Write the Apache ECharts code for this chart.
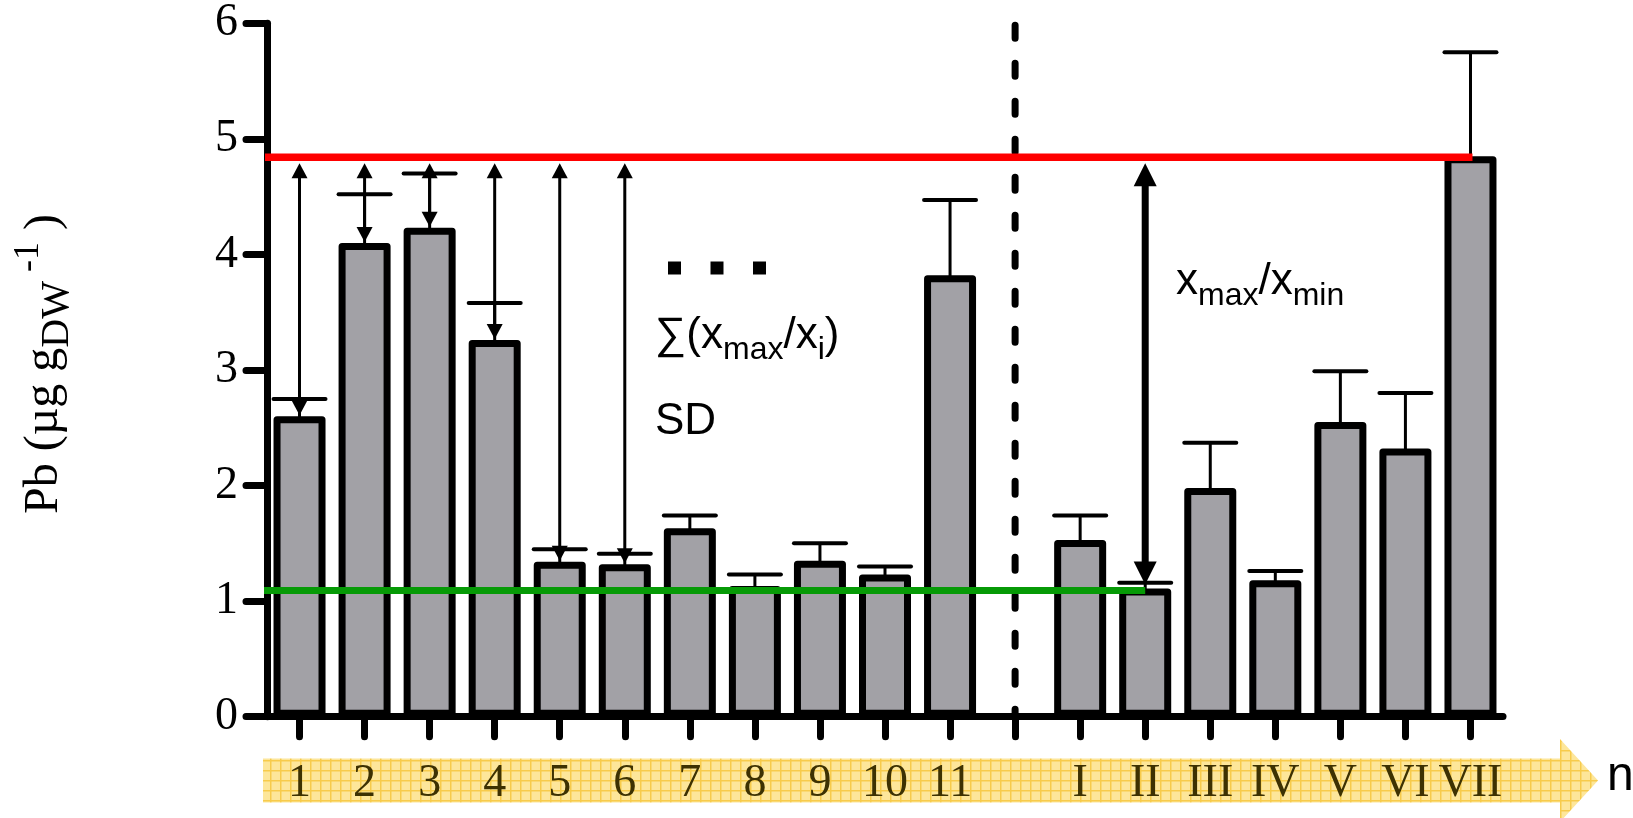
<!DOCTYPE html>
<html><head><meta charset="utf-8">
<script src="https://cdn.jsdelivr.net/npm/echarts@6/dist/echarts.min.js"></script>
<style>html,body{margin:0;padding:0;background:#fff}#c{width:1633px;height:818px}</style>
</head><body><div id="c"></div>
<script>
// ---------- data ----------
const categories = ['1','2','3','4','5','6','7','8','9','10','11','','I','II','III','IV','V','VI','VII'];
const pbMean = [2.60, 4.10, 4.23, 3.26, 1.34, 1.32, 1.63, 1.13, 1.35, 1.23, 3.82, null, 1.53, 1.11, 1.98, 1.18, 2.55, 2.32, 4.85];
const pbSD   = [0.15, 0.42, 0.47, 0.32, 0.11, 0.09, 0.11, 0.10, 0.15, 0.07, 0.65, null, 0.21, 0.05, 0.39, 0.08, 0.44, 0.48, 0.90];
const sumArrowCats = ['1','2','3','4','5','6'];
const yMin = 0, yMax = 6, yStep = 1;
const yAxisTitle = ['Pb (µg g', 'DW', ' -1', ' )'];

// ---------- derived ----------
const valid = pbMean.map((v, i) => [i, v]).filter(d => d[1] != null);
const maxPair = valid.reduce((a, b) => (b[1] > a[1] ? b : a));
const minPair = valid.reduce((a, b) => (b[1] < a[1] ? b : a));
const gapIndex = categories.indexOf('');

const errData = valid.map(d => [d[0], d[1], d[1] + pbSD[d[0]]]);
const sumArrowData = sumArrowCats.map(c => { const i = categories.indexOf(c); return [i, pbMean[i]]; });

const SERIF = '"Liberation Serif","Times New Roman",serif';
const SANS = '"Liberation Sans",Arial,"DejaVu Sans",sans-serif';

function arrowGroup(x, yTop, yBot, lw, hw, hl) {
  return {
    type: 'group',
    children: [
      { type: 'line', shape: { x1: x, y1: yTop + hl * 0.8, x2: x, y2: yBot - hl * 0.8 }, style: { stroke: '#000', lineWidth: lw } },
      { type: 'polygon', shape: { points: [[x, yTop], [x - hw / 2, yTop + hl], [x + hw / 2, yTop + hl]] }, style: { fill: '#000' } },
      { type: 'polygon', shape: { points: [[x, yBot], [x - hw / 2, yBot - hl], [x + hw / 2, yBot - hl]] }, style: { fill: '#000' } }
    ]
  };
}

// band pattern
const pc = document.createElement('canvas');
pc.width = 10; pc.height = 10;
const g2 = pc.getContext('2d');
g2.fillStyle = '#fde69a'; g2.fillRect(0, 0, 10, 10);
g2.fillStyle = '#f7cb4c'; g2.fillRect(0, 0, 10, 1.5); g2.fillRect(0, 0, 1.5, 10);

const chart = echarts.init(document.getElementById('c'), null, { renderer: 'canvas' });

const option = {
  animation: false,
  backgroundColor: '#fff',
  grid: { left: 267, right: 130, top: 23.3, bottom: 101.3, containLabel: false, outerBoundsMode: 'none' },
  xAxis: {
    type: 'category',
    data: categories,
    axisLine: { show: true, lineStyle: { color: '#000', width: 7, cap: 'round' } },
    axisTick: { show: true, interval: 0, alignWithLabel: true, length: 20, lineStyle: { color: '#000', width: 7, cap: 'round' } },
    axisLabel: { interval: 0, fontFamily: SERIF, fontSize: 46, color: '#3d3102', margin: 44 },
    splitLine: { show: false }
  },
  yAxis: {
    type: 'value',
    min: yMin, max: yMax, interval: yStep,
    axisLine: { show: true, lineStyle: { color: '#000', width: 7, cap: 'round' } },
    axisTick: { show: true, length: 21, lineStyle: { color: '#000', width: 7, cap: 'round' } },
    axisLabel: { fontFamily: SERIF, fontSize: 46, color: '#000', margin: 29 },
    splitLine: { show: false },
    name: '{m|' + yAxisTitle[0] + '}{sub|' + yAxisTitle[1] + '}{sup|' + yAxisTitle[2] + '}{m|' + yAxisTitle[3] + '}',
    nameLocation: 'middle',
    nameRotate: 90,
    nameGap: 190,
    nameTextStyle: {
      padding: [0, 0, 0, 12],
      rich: {
        m: { fontFamily: SERIF, fontSize: 48, lineHeight: 66, color: '#000', verticalAlign: 'middle' },
        sub: { fontFamily: SERIF, fontSize: 40, lineHeight: 40, color: '#000', verticalAlign: 'bottom' },
        sup: { fontFamily: SERIF, fontSize: 36, lineHeight: 28, color: '#000', verticalAlign: 'top' }
      }
    }
  },
  series: [
    {
      type: 'bar',
      data: pbMean,
      barWidth: 52,
      z: 2,
      itemStyle: { color: '#a2a1a6', borderColor: '#000', borderWidth: 7, borderJoin: 'round' }
    },
    {
      type: 'custom',
      z: 3,
      data: errData,
      encode: { x: 0, y: [1, 2] },
      renderItem: function (params, api) {
        const i = api.value(0);
        const p0 = api.coord([i, api.value(1)]);
        const p1 = api.coord([i, api.value(2)]);
        return {
          type: 'group',
          children: [
            { type: 'line', shape: { x1: p0[0], y1: p0[1] + 3, x2: p1[0], y2: p1[1] }, style: { stroke: '#000', lineWidth: 3 } },
            { type: 'line', shape: { x1: p1[0] - 26, y1: p1[1], x2: p1[0] + 26, y2: p1[1] }, style: { stroke: '#000', lineWidth: 4, lineCap: 'round' } }
          ]
        };
      }
    },
    {
      // separator between groups
      type: 'custom',
      z: 3,
      data: [[gapIndex, yMax, yMin]],
      encode: { x: 0, y: [1, 2] },
      renderItem: function (params, api) {
        const a = api.coord([api.value(0), api.value(1)]);
        const b = api.coord([api.value(0), api.value(2)]);
        return { type: 'line', shape: { x1: a[0], y1: a[1] + 2, x2: b[0], y2: b[1] },
          style: { stroke: '#000', lineWidth: 7, lineDash: [13, 25], lineCap: 'round' } };
      }
    },
    {
      // min line (green)
      type: 'custom',
      z: 4,
      data: [minPair],
      encode: { x: 0, y: 1 },
      renderItem: function (params, api) {
        const p = api.coord([api.value(0), api.value(1)]);
        const left = api.coord([0, api.value(1)])[0] - api.size([1, 0])[0] / 2;
        return { type: 'line', shape: { x1: left - 3, y1: p[1] + 2, x2: p[0], y2: p[1] + 2 }, style: { stroke: '#069a06', lineWidth: 7 } };
      }
    },
    {
      // max line (red)
      type: 'custom',
      z: 5,
      data: [maxPair],
      encode: { x: 0, y: 1 },
      renderItem: function (params, api) {
        const p = api.coord([api.value(0), api.value(1)]);
        const left = api.coord([0, api.value(1)])[0] - api.size([1, 0])[0] / 2;
        return { type: 'line', shape: { x1: left - 2, y1: p[1] + 1, x2: p[0] + 2, y2: p[1] + 1 }, style: { stroke: '#ff0000', lineWidth: 7.5 } };
      }
    },
    {
      // thin arrows: x_max / x_i
      type: 'custom',
      z: 6,
      data: sumArrowData,
      encode: { x: 0, y: 1 },
      renderItem: function (params, api) {
        const i = api.value(0);
        const x = api.coord([i, api.value(1)])[0];
        const yTop = api.coord([i, maxPair[1]])[1] + 7;
        const yBot = api.coord([i, api.value(1)])[1] - 1;
        return arrowGroup(x, yTop, yBot, 3, 16, 15);
      }
    },
    {
      // big arrow: x_max / x_min
      type: 'custom',
      z: 6,
      data: [minPair],
      encode: { x: 0, y: 1 },
      renderItem: function (params, api) {
        const i = api.value(0);
        const x = api.coord([i, api.value(1)])[0];
        const yTop = api.coord([i, maxPair[1]])[1] + 7;
        const yBot = api.coord([i, api.value(1)])[1] - 4;
        return arrowGroup(x, yTop, yBot, 7, 23, 23);
      }
    }
  ],
  graphic: [
    {
      type: 'polygon', z: -1, silent: true,
      shape: { points: [[263, 758.5], [1560, 758.5], [1560, 739], [1598, 780.5], [1560, 822], [1560, 802.5], [263, 802.5]] },
      style: { fill: { image: pc, repeat: 'repeat' } }
    },
    { type: 'text', x: 1607, y: 777, style: { text: 'n', font: '48px ' + SANS, fill: '#000', textAlign: 'left', textVerticalAlign: 'middle', align: 'left', verticalAlign: 'middle' } },
    { type: 'rect', shape: { x: 668, y: 261.5, width: 13, height: 13 }, style: { fill: '#000' } },
    { type: 'rect', shape: { x: 710.5, y: 261.5, width: 13, height: 13 }, style: { fill: '#000' } },
    { type: 'rect', shape: { x: 753, y: 261.5, width: 13, height: 13 }, style: { fill: '#000' } },
    {
      type: 'text', x: 655, y: 335.6,
      style: {
        text: '{m|∑(x}{s|max}{m|/x}{s|i}{m|)}',
        textAlign: 'left', textVerticalAlign: 'middle', align: 'left', verticalAlign: 'middle', fill: '#000',
        rich: {
          m: { fontFamily: SANS, fontSize: 44, lineHeight: 62, verticalAlign: 'middle', fill: '#000', color: '#000' },
          s: { fontFamily: SANS, fontSize: 32, lineHeight: 32, verticalAlign: 'bottom', fill: '#000', color: '#000' }
        }
      }
    },
    { type: 'text', x: 655, y: 421.6, style: { text: 'SD', font: '44px ' + SANS, fill: '#000', textAlign: 'left', textVerticalAlign: 'middle', align: 'left', verticalAlign: 'middle' } },
    {
      type: 'text', x: 1176, y: 281.6,
      style: {
        text: '{m|x}{s|max}{m|/x}{s|min}',
        textAlign: 'left', textVerticalAlign: 'middle', align: 'left', verticalAlign: 'middle', fill: '#000',
        rich: {
          m: { fontFamily: SANS, fontSize: 44, lineHeight: 62, verticalAlign: 'middle', fill: '#000', color: '#000' },
          s: { fontFamily: SANS, fontSize: 32, lineHeight: 32, verticalAlign: 'bottom', fill: '#000', color: '#000' }
        }
      }
    }
  ]
};
chart.setOption(option);
</script>
</body></html>
